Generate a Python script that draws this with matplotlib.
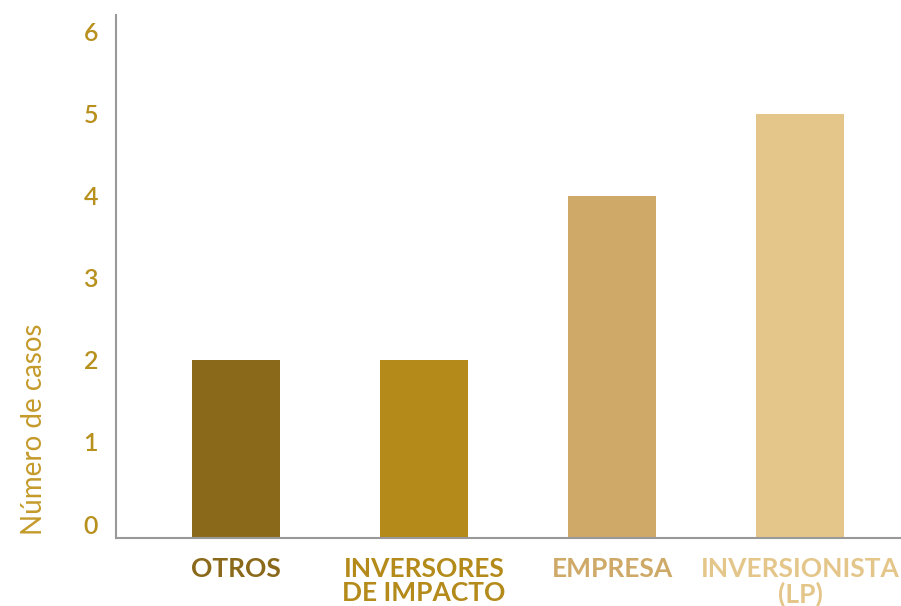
import matplotlib.pyplot as plt

categories = ["OTROS", "INVERSORES\nDE IMPACTO", "EMPRESA", "INVERSIONISTA\n(LP)"]
values = [2, 2, 4, 5]
colors = ["#8B691B", "#B48A1A", "#CEA968", "#E4C68A"]
yticks = [0, 1, 2, 3, 4, 5, 6]

plt.rcParams['font.family'] = ['Lato', 'DejaVu Sans']

fig = plt.figure(figsize=(9.01, 6.06), dpi=100)
ax = fig.add_axes([116 / 901, 68 / 606, 1 - 116 / 901, 523 / 606])

y0, y1 = -0.17, 6.2
x = range(len(categories))
# bars run down to the axis line, as in the original
ax.bar(x, [v - y0 for v in values], bottom=y0, width=0.468, color=colors)

ax.set_xlim(-0.638, 3.537)
ax.set_ylim(y0, y1)
ax.set_yticks(yticks)
ax.set_yticklabels([str(t) for t in yticks], fontsize=18, fontweight="semibold",
                   color="#B8901E")
ax.set_xticks(list(x))
ax.set_xticklabels(categories, fontsize=19, fontweight="bold", linespacing=1.0)
for lab, c in zip(ax.get_xticklabels(), colors):
    lab.set_color(c)

ax.tick_params(axis="both", length=0)
ax.tick_params(axis="y", pad=13)
ax.tick_params(axis="x", pad=14)

ax.set_ylabel("Número de casos", fontsize=20, color="#C49A2A")
ax.yaxis.set_label_coords(-0.088, 0.207)

for s in ["top", "right"]:
    ax.spines[s].set_visible(False)
for s in ["left", "bottom"]:
    ax.spines[s].set_color("#999999")
    ax.spines[s].set_linewidth(1.5)

fig.savefig("out.png", dpi=100)
